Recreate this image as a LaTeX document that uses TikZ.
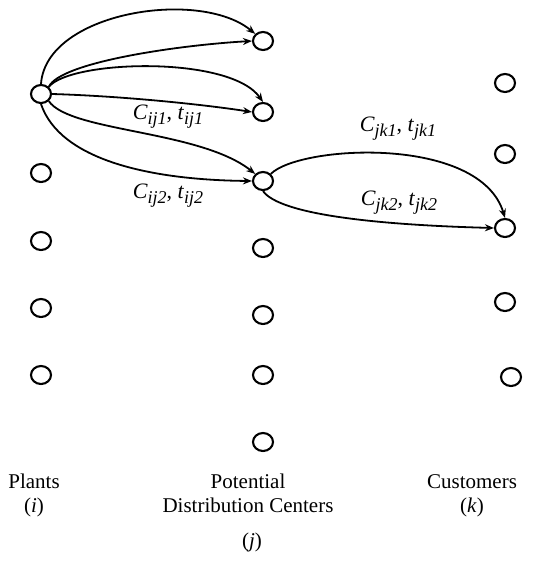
\documentclass[tikz,border=0pt]{standalone}
\usepackage{fontspec}
\setmainfont{Liberation Serif}
\usetikzlibrary{shapes.geometric,arrows.meta}
\newcommand\costlab[2]{\textit{#1}{\fontsize{18}{18}\selectfont\raisebox{-5pt}{\textit{#2}}}}
\begin{document}
\begin{tikzpicture}[x=1pt,y=-1pt,
  vtx/.style={ellipse,draw,line width=2.1pt,minimum width=20pt,minimum height=18pt,inner sep=0pt},
  arc/.style={line width=1.8pt,-{Stealth[length=9pt,width=7pt]}},
  lab/.style={font=\fontsize{22}{24}\selectfont,inner sep=0pt},
  colttl/.style={font=\fontsize{21}{24}\selectfont,align=center,inner sep=0pt}]
\useasboundingbox (0,0) rectangle (559,570);
% plants
\node[vtx] (p1) at (41,94) {};
\node[vtx] (p2) at (41,173) {};
\node[vtx] (p3) at (41,241) {};
\node[vtx] (p4) at (41,308) {};
\node[vtx] (p5) at (41,375) {};
% distribution centers
\node[vtx] (d1) at (263,41) {};
\node[vtx] (d2) at (263,112) {};
\node[vtx] (d3) at (263,181) {};
\node[vtx] (d4) at (263,248) {};
\node[vtx] (d5) at (263,315) {};
\node[vtx] (d6) at (263,375) {};
\node[vtx] (d7) at (263,442) {};
% customers
\node[vtx] (c1) at (505,83) {};
\node[vtx] (c2) at (505,154) {};
\node[vtx] (c3) at (505,228) {};
\node[vtx] (c4) at (505,302) {};
\node[vtx] (c5) at (511,377) {};
% arcs plants -> DCs
\draw[arc] (p1.north) .. controls (46,12) and (200,-12) .. (d1.north west);
\draw[arc] (p1.north east) .. controls (60,62) and (180,45) .. (d1.west);
\draw[arc] (p1.north east) .. controls (70,60) and (230,55) .. (d2.north);
\draw[arc] (p1.east) .. controls (120,96) and (200,104) .. (d2.west);
\draw[arc] (p1.south east) .. controls (70,132) and (200,130) .. (d3.north west);
\draw[arc] (p1.south) .. controls (60,160) and (150,180) .. (d3.west);
% arcs DC -> customer
\draw[arc] (d3.north east) .. controls (300,145) and (480,135) .. (c3.north);
\draw[arc] (d3.south) .. controls (280,215) and (380,225) .. (c3.west);
% cost labels
\node[lab] (l1) at (168,117) {\costlab{C}{ij1}, \costlab{t}{ij1}};
\node[lab] (l2) at (168,196) {\costlab{C}{ij2}, \costlab{t}{ij2}};
\node[lab] (l3) at (398,129) {\costlab{C}{jk1}, \costlab{t}{jk1}};
\node[lab] (l4) at (399,203) {\costlab{C}{jk2}, \costlab{t}{jk2}};
% column titles
\node[colttl,anchor=north] (tp) at (34,474) {Plants\\(\textit{i})};
\node[colttl,anchor=north] (td) at (248,474) {Potential\\Distribution Centers};
\node[colttl,anchor=north] (tj) at (252,533) {(\textit{j})};
\node[colttl,anchor=north] (tc) at (472,474) {Customers\\(\textit{k})};
\end{tikzpicture}
\end{document}
